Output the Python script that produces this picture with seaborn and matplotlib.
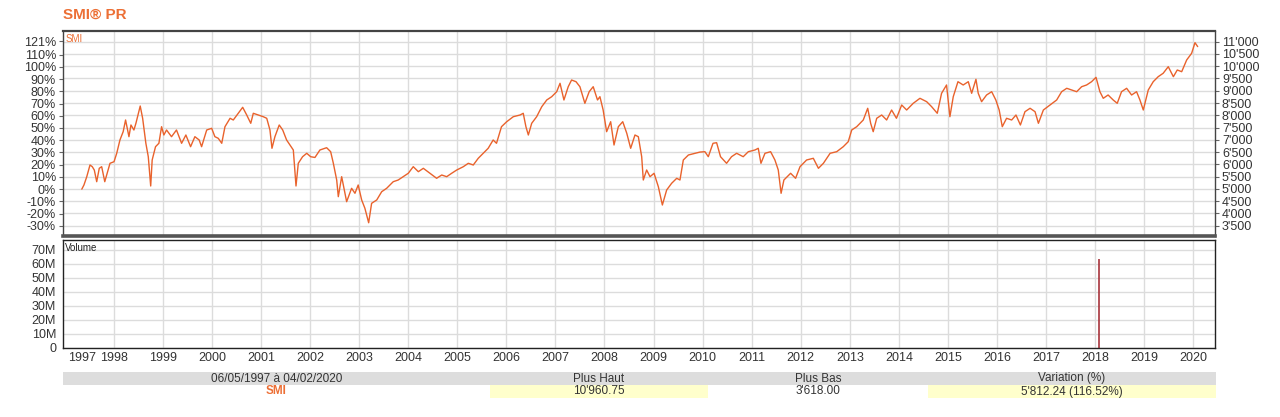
import numpy as np
import pandas as pd
import matplotlib
matplotlib.use("Agg")
import matplotlib.pyplot as plt
import matplotlib.dates as mdates
from matplotlib.patches import Rectangle
from matplotlib.ticker import FuncFormatter
import seaborn as sns

# SMI closing levels
dates = [
    "1997-05-06", "1997-05-22", "1997-06-12", "1997-07-06", "1997-07-23", "1997-08-07", "1997-08-25",
    "1997-09-13", "1997-10-01", "1997-10-24", "1997-11-07", "1997-12-02", "1998-01-01", "1998-01-21",
    "1998-02-14", "1998-03-10", "1998-03-28", "1998-04-22", "1998-05-07", "1998-05-29", "1998-06-13",
    "1998-07-15", "1998-08-02", "1998-08-26", "1998-09-13", "1998-10-01", "1998-10-12", "1998-11-06",
    "1998-12-01", "1998-12-21", "1999-01-07", "1999-01-27", "1999-03-05", "1999-04-11", "1999-05-19",
    "1999-06-20", "1999-07-25", "1999-08-26", "1999-09-27", "1999-10-15", "1999-11-22", "1999-12-29",
    "2000-01-22", "2000-02-16", "2000-03-13", "2000-04-06", "2000-05-14", "2000-06-07", "2000-07-14",
    "2000-08-16", "2000-09-15", "2000-10-15", "2000-11-03", "2000-12-10", "2001-01-16", "2001-02-11",
    "2001-03-07", "2001-03-22", "2001-04-13", "2001-05-15", "2001-06-10", "2001-07-09", "2001-08-03",
    "2001-08-28", "2001-09-17", "2001-10-04", "2001-11-05", "2001-12-06", "2002-01-04", "2002-02-05",
    "2002-03-14", "2002-05-03", "2002-06-02", "2002-06-22", "2002-07-17", "2002-07-29", "2002-08-23",
    "2002-09-29", "2002-11-05", "2002-11-30", "2002-12-24", "2003-01-19", "2003-02-12", "2003-03-12",
    "2003-04-03", "2003-05-11", "2003-06-17", "2003-07-24", "2003-09-11", "2003-10-18", "2003-11-24",
    "2004-01-01", "2004-02-07", "2004-03-16", "2004-04-22", "2004-06-10", "2004-07-30", "2004-09-06",
    "2004-10-13", "2004-11-19", "2004-12-27", "2005-02-14", "2005-03-23", "2005-04-29", "2005-06-05",
    "2005-07-12", "2005-08-18", "2005-09-24", "2005-10-19", "2005-11-25", "2006-01-03", "2006-02-21",
    "2006-04-12", "2006-05-06", "2006-05-26", "2006-06-13", "2006-07-08", "2006-08-14", "2006-09-21",
    "2006-10-28", "2006-12-04", "2007-01-10", "2007-02-04", "2007-03-05", "2007-04-06", "2007-05-01",
    "2007-06-03", "2007-07-02", "2007-08-08", "2007-09-09", "2007-10-09", "2007-11-10", "2007-11-28",
    "2007-12-22", "2008-01-17", "2008-02-16", "2008-03-12", "2008-04-13", "2008-05-16", "2008-06-15",
    "2008-07-14", "2008-08-15", "2008-09-09", "2008-10-04", "2008-10-16", "2008-11-10", "2008-12-05",
    "2009-01-04", "2009-02-05", "2009-03-07", "2009-04-08", "2009-05-15", "2009-06-22", "2009-07-16",
    "2009-08-10", "2009-09-17", "2009-11-05", "2009-12-12", "2010-01-18", "2010-02-12", "2010-03-19",
    "2010-04-15", "2010-05-14", "2010-06-28", "2010-08-04", "2010-09-11", "2010-10-30", "2010-12-07",
    "2011-01-25", "2011-02-19", "2011-03-11", "2011-04-10", "2011-05-22", "2011-06-23", "2011-07-18",
    "2011-08-08", "2011-08-29", "2011-09-23", "2011-10-18", "2011-11-24", "2011-12-27", "2012-02-14",
    "2012-04-04", "2012-05-12", "2012-06-18", "2012-08-07", "2012-09-25", "2012-11-13", "2012-12-20",
    "2013-01-15", "2013-02-21", "2013-04-11", "2013-05-14", "2013-06-05", "2013-06-24", "2013-07-20",
    "2013-08-26", "2013-10-02", "2013-11-08", "2013-12-14", "2014-01-22", "2014-02-28", "2014-04-18",
    "2014-06-07", "2014-07-27", "2014-09-02", "2014-10-14", "2014-11-15", "2014-12-22", "2015-01-16",
    "2015-02-10", "2015-03-17", "2015-04-25", "2015-06-02", "2015-06-27", "2015-07-29", "2015-08-15",
    "2015-09-09", "2015-10-16", "2015-11-23", "2015-12-24", "2016-01-18", "2016-02-10", "2016-03-13",
    "2016-04-20", "2016-05-22", "2016-06-24", "2016-07-28", "2016-09-04", "2016-10-11", "2016-11-05",
    "2016-12-12", "2017-01-31", "2017-03-21", "2017-04-27", "2017-06-04", "2017-07-11", "2017-08-17",
    "2017-09-23", "2017-10-30", "2017-12-06", "2018-01-08", "2018-02-06", "2018-03-03", "2018-04-08",
    "2018-05-16", "2018-06-15", "2018-07-17", "2018-08-24", "2018-09-30", "2018-11-06", "2018-12-01",
    "2018-12-26", "2019-02-01", "2019-03-10", "2019-04-16", "2019-05-23", "2019-06-30", "2019-08-07",
    "2019-09-05", "2019-10-08", "2019-11-14", "2019-12-21", "2020-01-15", "2020-02-04",
]
prices = [
    4988, 5158, 5496, 5973, 5904, 5769, 5292,
    5838, 5904, 5292, 5565, 6042, 6107, 6450,
    6992, 7331, 7808, 7127, 7604, 7400, 7673,
    8378, 7877, 6858, 6311, 5117, 6177, 6719,
    6858, 7534, 7196, 7400, 7127, 7400, 6858,
    7196, 6719, 7127, 6992, 6719, 7400, 7469,
    7127, 7061, 6858, 7534, 7877, 7808, 8081,
    8325, 8011, 7673, 8081, 8011, 7942, 7877,
    7400, 6654, 7127, 7604, 7400, 6992, 6788,
    6584, 5117, 6042, 6311, 6450, 6311, 6280,
    6584, 6678, 6515, 6042, 5361, 4681, 5496,
    4477, 5023, 4819, 5158, 4546, 4208, 3618,
    4411, 4546, 4884, 5023, 5292, 5361, 5496,
    5635, 5904, 5700, 5838, 5635, 5431, 5565,
    5496, 5635, 5769, 5904, 6042, 5973, 6246,
    6450, 6654, 6992, 6858, 7534, 7738, 7942,
    8011, 8081, 7534, 7196, 7673, 7942, 8350,
    8623, 8758, 8961, 9304, 8623, 9165, 9438,
    9369, 9165, 8488, 8961, 9165, 8623, 8758,
    8215, 7331, 7738, 6788, 7534, 7738, 7265,
    6654, 7196, 7127, 6311, 5361, 5769, 5496,
    5635, 5088, 4342, 4954, 5227, 5431, 5361,
    6177, 6381, 6450, 6500, 6515, 6311, 6858,
    6882, 6311, 6042, 6311, 6450, 6311, 6515,
    6584, 6654, 6042, 6450, 6515, 6177, 5769,
    4819, 5361, 5496, 5635, 5431, 5904, 6177,
    6246, 5838, 6042, 6450, 6515, 6719, 6923,
    7400, 7534, 7808, 8285, 7673, 7331, 7877,
    8011, 7808, 8215, 7877, 8419, 8215, 8488,
    8692, 8554, 8350, 8081, 8896, 9235, 7942,
    8758, 9369, 9235, 9369, 8896, 9467, 8896,
    8554, 8827, 8961, 8623, 8215, 7534, 7877,
    7808, 8011, 7604, 8146, 8285, 8146, 7673,
    8215, 8419, 8623, 8961, 9100, 9031, 8961,
    9165, 9235, 9369, 9548, 8961, 8692, 8827,
    8623, 8488, 8961, 9100, 8827, 8961, 8623,
    8215, 9031, 9369, 9573, 9712, 9981, 9573,
    9846, 9777, 10254, 10527, 10960, 10800,
]

# volume panel: a single print shows on the chart
vol_dates = ["2018-01-31"]
volumes = [63.5e6]

base_price = 4988.16  # close on 06/05/1997, reference for the % axis
pct_ticks = [-30, -20, -10, 0, 10, 20, 30, 40, 50, 60, 70, 80, 90, 100, 110, 121]
price_ticks = list(range(3500, 11001, 500))
vol_ticks = [0, 10e6, 20e6, 30e6, 40e6, 50e6, 60e6, 70e6]
year_ticks = [f"{y}-01-01" for y in range(1998, 2021)]

table_header = ["06/05/1997 à 04/02/2020", "Plus Haut", "Plus Bas", "Variation (%)"]
table_values = ["SMI", "10'960.75", "3'618.00", "5'812.24 (116.52%)"]

ORANGE = "#ec6f35"
LINE = "#e9622c"
GRID = "#dcdcdc"
TXT = "#333333"

sns.set_style("white")
plt.rcParams["font.family"] = ["Liberation Sans", "DejaVu Sans"]

smi = pd.DataFrame({"date": pd.to_datetime(dates), "close": prices})
vol = pd.DataFrame({"date": pd.to_datetime(vol_dates), "volume": volumes})

W, H = 1280, 417
fig = plt.figure(figsize=(W / 100, H / 100), dpi=100)


def box(left, top, right, bottom):
    return [left / W, 1 - bottom / H, (right - left) / W, (bottom - top) / H]


ax = fig.add_axes(box(63, 31, 1215, 236))
axv = fig.add_axes(box(63, 240, 1215, 348), sharex=ax)

# price line
sns.lineplot(data=smi, x="date", y="close", ax=ax, color=LINE, linewidth=1)
ax.set_xlim(pd.Timestamp("1996-12-17"), pd.Timestamp("2020-06-12"))
ax.set_ylim(3078, 11436)
ax.set_xlabel("")
ax.set_ylabel("")
ax.yaxis.tick_right()
ax.set_yticks(price_ticks)
ax.yaxis.set_major_formatter(FuncFormatter(lambda v, p: f"{int(v):,}".replace(",", "'")))
ax.grid(True, which="major", color=GRID, linewidth=1)
ax.tick_params(axis="y", length=3, width=0.8, color="#666666", labelsize=9, labelcolor=TXT, pad=2)

pct = ax.secondary_yaxis(
    "left",
    functions=(lambda p: (p / base_price - 1) * 100, lambda q: base_price * (1 + q / 100)),
)
pct.set_yticks(pct_ticks)
pct.yaxis.set_major_formatter(FuncFormatter(lambda v, p: f"{v:.0f}%"))
pct.tick_params(length=3, width=0.8, color="#666666", labelsize=9, labelcolor=TXT, pad=2)
pct.spines["left"].set_visible(False)

for side, sp in ax.spines.items():
    sp.set_color("#444444")
    sp.set_linewidth(1)
ax.spines["top"].set_linewidth(1.6)
ax.spines["bottom"].set_linewidth(2.6)
ax.spines["bottom"].set_color("#555555")

ax.text(0.002, 0.985, "SMI", transform=ax.transAxes, color=ORANGE, fontsize=7, va="top", ha="left")

# volume panel
axv.vlines(vol["date"], 0, vol["volume"], color="#a8343c", linewidth=1.2)
axv.set_ylim(0, 77e6)
axv.set_yticks(vol_ticks)
axv.yaxis.set_major_formatter(FuncFormatter(lambda v, p: "0" if v == 0 else f"{v / 1e6:.0f}M"))
axv.set_xticks(pd.to_datetime(year_ticks))
axv.xaxis.set_major_formatter(mdates.DateFormatter("%Y"))
axv.set_xticks([smi["date"].iloc[0]], labels=["1997"], minor=True)
axv.grid(True, which="major", color=GRID, linewidth=1)
axv.tick_params(axis="x", which="both", length=0, labelsize=9, labelcolor=TXT, pad=3)
axv.tick_params(axis="y", length=3, width=0.8, color="#666666", labelsize=9, labelcolor=TXT, pad=2)
for sp in axv.spines.values():
    sp.set_color("#222222")
    sp.set_linewidth(1)
axv.text(0.002, 0.97, "Volume", transform=axv.transAxes, color="#222222", fontsize=7, va="top", ha="left")

# shared x axis: hide the year labels on the price panel
ax.tick_params(axis="x", which="both", labelbottom=False, length=0)

# title
fig.text(63 / W, 1 - 15 / H, "SMI® PR", fontsize=11, fontweight="bold", color=ORANGE, va="center", ha="left")

# summary table under the chart
cols = [(63, 490), (490, 708), (708, 928), (928, 1216)]
row1 = (372, 385)
row2 = (385, 398)
fig.patches.append(Rectangle((63 / W, 1 - row1[1] / H), (1216 - 63) / W, (row1[1] - row1[0]) / H,
                             transform=fig.transFigure, facecolor="#dddddd", edgecolor="none"))
for i, (l, r) in enumerate(cols):
    if i in (1, 3):
        fig.patches.append(Rectangle((l / W, 1 - row2[1] / H), (r - l) / W, (row2[1] - row2[0]) / H,
                                     transform=fig.transFigure, facecolor="#ffffcc", edgecolor="none"))
    cx = (l + r) / 2 / W
    fig.text(cx, 1 - (row1[0] + row1[1]) / 2 / H, table_header[i], fontsize=8.5, color=TXT,
             ha="center", va="center")
    if i == 0:
        fig.text(cx, 1 - (row2[0] + row2[1]) / 2 / H, table_values[i], fontsize=8.5, color=ORANGE,
                 fontweight="bold", ha="center", va="center")
    else:
        fig.text(cx, 1 - (row2[0] + row2[1]) / 2 / H, table_values[i], fontsize=8.5, color=TXT,
                 ha="center", va="center")

fig.savefig("out.png", dpi=100)
